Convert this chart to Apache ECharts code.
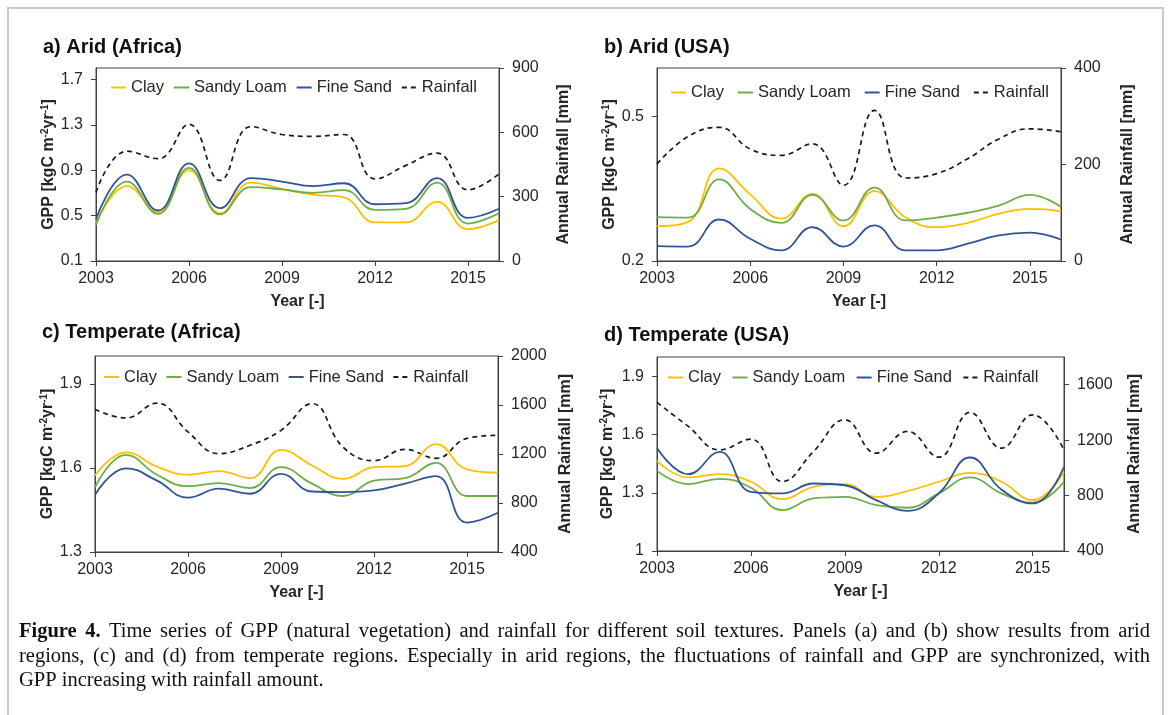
<!DOCTYPE html>
<html>
<head>
<meta charset="utf-8">
<script src="https://cdn.jsdelivr.net/npm/echarts@6/dist/echarts.min.js"></script>
<style>
  html, body { margin: 0; padding: 0; background: #ffffff; }
  #chart { width: 1171px; height: 715px; }
</style>
</head>
<body>
<div id="chart"></div>
<script>
// ---- data -------------------------------------------------------------
const years = [2003, 2004, 2005, 2006, 2007, 2008, 2009, 2010, 2011, 2012, 2013, 2014, 2015, 2016];
const seriesNames = ['Clay', 'Sandy Loam', 'Fine Sand', 'Rainfall'];
const yearTicks = [2003, 2006, 2009, 2012, 2015];

// a) Arid (Africa)
const aClay      = [0.43, 0.76, 0.53, 0.90, 0.52, 0.79, 0.735, 0.685, 0.66, 0.44, 0.44, 0.62, 0.38, 0.46];
const aSandyLoam = [0.42, 0.80, 0.515, 0.92, 0.51, 0.75, 0.73, 0.70, 0.725, 0.55, 0.56, 0.79, 0.43, 0.52];
const aFineSand  = [0.47, 0.86, 0.545, 0.96, 0.565, 0.83, 0.80, 0.76, 0.785, 0.60, 0.61, 0.83, 0.48, 0.56];
const aRainfall  = [320, 512, 477, 637, 376, 627, 590, 581, 590, 383, 446, 503, 332, 406];
const aGppRange  = [0.1, 1.8, 0.4];
const aGppTicks  = [0.1, 0.5, 0.9, 1.3, 1.7];
const aRainRange = [0, 900, 300];
const aRainTicks = [0, 300, 600, 900];

// b) Arid (USA)
const bClay      = [0.272, 0.281, 0.392, 0.338, 0.288, 0.339, 0.272, 0.345, 0.29, 0.27, 0.279, 0.298, 0.308, 0.303];
const bSandyLoam = [0.291, 0.29, 0.369, 0.308, 0.279, 0.337, 0.284, 0.352, 0.284, 0.29, 0.30, 0.315, 0.337, 0.312];
const bFineSand  = [0.231, 0.23, 0.286, 0.246, 0.222, 0.27, 0.23, 0.274, 0.222, 0.222, 0.236, 0.253, 0.259, 0.244];
const bRainfall  = [201, 258, 277, 232, 219, 243, 157, 312, 172, 181, 212, 253, 274, 268];
const bGppRange  = [0.2, 0.6, 0.3];
const bGppTicks  = [0.2, 0.5];
const bRainRange = [0, 400, 200];
const bRainTicks = [0, 200, 400];

// c) Temperate (Africa)
const cClay      = [1.573, 1.656, 1.605, 1.576, 1.589, 1.564, 1.665, 1.609, 1.561, 1.603, 1.607, 1.685, 1.595, 1.583];
const cSandyLoam = [1.532, 1.647, 1.576, 1.535, 1.546, 1.528, 1.603, 1.544, 1.50, 1.555, 1.564, 1.618, 1.50, 1.50];
const cFineSand  = [1.504, 1.599, 1.555, 1.494, 1.526, 1.508, 1.579, 1.516, 1.514, 1.52, 1.544, 1.571, 1.405, 1.44];
const cRainfall  = [1565, 1494, 1616, 1380, 1203, 1271, 1393, 1611, 1257, 1145, 1238, 1165, 1328, 1353];
const cGppRange  = [1.3, 2.0, 0.3];
const cGppTicks  = [1.3, 1.6, 1.9];
const cRainRange = [400, 2000, 400];
const cRainTicks = [400, 800, 1200, 1600, 2000];

// d) Temperate (USA)
const dClay      = [1.465, 1.379, 1.396, 1.357, 1.267, 1.331, 1.345, 1.279, 1.309, 1.357, 1.403, 1.357, 1.262, 1.41];
const dSandyLoam = [1.413, 1.345, 1.372, 1.326, 1.211, 1.271, 1.279, 1.237, 1.223, 1.297, 1.379, 1.297, 1.249, 1.357];
const dFineSand  = [1.531, 1.396, 1.511, 1.305, 1.297, 1.348, 1.339, 1.262, 1.207, 1.297, 1.482, 1.317, 1.245, 1.434];
const dRainfall  = [1472, 1299, 1130, 1207, 901, 1118, 1347, 1106, 1263, 1077, 1400, 1142, 1383, 1130];
const dGppRange  = [1.0, 2.0, 0.3];
const dGppTicks  = [1.0, 1.3, 1.6, 1.9];
const dRainRange = [400, 1800, 400];
const dRainTicks = [400, 800, 1200, 1600];

const panelTitles = ['a) Arid (Africa)', 'b) Arid (USA)', 'c) Temperate (Africa)', 'd) Temperate (USA)'];
const captionLead = 'Figure 4.';
const captionLines = [
  'Time series of GPP (natural vegetation) and rainfall for different soil textures. Panels (a) and (b) show results from arid',
  'regions, (c) and (d) from temperate regions. Especially in arid regions, the fluctuations of rainfall and GPP are synchronized, with',
  'GPP increasing with rainfall amount.'
];

// ---- styling / layout -------------------------------------------------
const SANS = 'Liberation Sans, Arial, sans-serif';
const SERIF = 'Liberation Serif';
const INK = '#262626';
const AXIS = '#404040';
const colors = ['#FFC000', '#70AD47', '#2F5597', '#1a1a1a'];

const layouts = [
  { grid: { left: 96,  top: 68,  width: 403, height: 193 }, title: [43, 46],  legend: { left: 110, top: 79, itemGap: 9 },  gppGap: 38, rainGap: 57 },
  { grid: { left: 657, top: 68,  width: 404, height: 193 }, title: [604, 46], legend: { left: 670, top: 84, itemGap: 13 }, gppGap: 38, rainGap: 59 },
  { grid: { left: 95,  top: 356, width: 403, height: 196 }, title: [42, 331], legend: { left: 103, top: 368.5, itemGap: 8.5 }, gppGap: 38, rainGap: 60 },
  { grid: { left: 657, top: 357, width: 407, height: 194 }, title: [604, 334], legend: { left: 667, top: 369, itemGap: 10.5 }, gppGap: 40, rainGap: 63 }
];

const panels = [
  { values: [aClay, aSandyLoam, aFineSand, aRainfall], gpp: aGppRange, gppTicks: aGppTicks, rain: aRainRange, rainTicks: aRainTicks },
  { values: [bClay, bSandyLoam, bFineSand, bRainfall], gpp: bGppRange, gppTicks: bGppTicks, rain: bRainRange, rainTicks: bRainTicks },
  { values: [cClay, cSandyLoam, cFineSand, cRainfall], gpp: cGppRange, gppTicks: cGppTicks, rain: cRainRange, rainTicks: cRainTicks },
  { values: [dClay, dSandyLoam, dFineSand, dRainfall], gpp: dGppRange, gppTicks: dGppTicks, rain: dRainRange, rainTicks: dRainTicks }
];

const numFmt = v => String(parseFloat(Number(v).toFixed(3)));
const tickLabel = { fontFamily: SANS, fontSize: 16, color: INK, formatter: numFmt };
const axisLineStyle = { color: AXIS, width: 1 };
const nameStyleBold = { fontFamily: SANS, fontSize: 16, fontWeight: 'bold', color: INK };

// GPP axis title with superscript exponents
const gppName = '{t|GPP [kgC m}{s|-2}{t|yr}{s|-1}{t|]}';
const gppRich = {
  t: { fontFamily: SANS, fontSize: 16, fontWeight: 'bold', color: INK, lineHeight: 18 },
  s: { fontFamily: SANS, fontSize: 10, fontWeight: 'bold', color: INK, lineHeight: 10, verticalAlign: 'top' }
};

const grids = [], xAxes = [], yAxes = [], series = [], legends = [], graphics = [];

panels.forEach((p, i) => {
  const L = layouts[i];
  grids.push(Object.assign({ show: true, borderColor: AXIS, borderWidth: 1, backgroundColor: 'transparent', containLabel: false }, L.grid));

  xAxes.push({
    type: 'value', gridIndex: i, min: years[0], max: years[years.length - 1], interval: 3,
    name: 'Year [-]', nameLocation: 'middle', nameGap: 33, nameTextStyle: nameStyleBold,
    axisLine: { show: true, lineStyle: axisLineStyle },
    axisTick: { show: true, inside: false, length: 5, lineStyle: axisLineStyle, customValues: yearTicks },
    axisLabel: Object.assign({ margin: 10, customValues: yearTicks }, tickLabel, { formatter: v => String(v) }),
    splitLine: { show: false }
  });

  yAxes.push({
    type: 'value', gridIndex: i, position: 'left', min: p.gpp[0], max: p.gpp[1], interval: p.gpp[2],
    name: gppName, nameLocation: 'middle', nameRotate: 90, nameGap: L.gppGap,
    nameTextStyle: { rich: gppRich },
    axisLine: { show: true, lineStyle: axisLineStyle },
    axisTick: { show: true, inside: false, length: 5, lineStyle: axisLineStyle, customValues: p.gppTicks },
    axisLabel: Object.assign({ margin: 13, customValues: p.gppTicks }, tickLabel),
    splitLine: { show: false }
  });

  yAxes.push({
    type: 'value', gridIndex: i, position: 'right', min: p.rain[0], max: p.rain[1], interval: p.rain[2],
    name: 'Annual Rainfall [mm]', nameLocation: 'middle', nameRotate: 90, nameGap: L.rainGap,
    nameTextStyle: nameStyleBold,
    axisLine: { show: true, lineStyle: axisLineStyle },
    axisTick: { show: true, inside: false, length: 5, lineStyle: axisLineStyle, customValues: p.rainTicks },
    axisLabel: Object.assign({ margin: 13, customValues: p.rainTicks }, tickLabel),
    splitLine: { show: false }
  });

  seriesNames.forEach((name, k) => {
    const isRain = k === 3;
    series.push({
      type: 'line', name: name,
      xAxisIndex: i, yAxisIndex: isRain ? 2 * i + 1 : 2 * i,
      data: years.map((y, j) => [y, p.values[k][j]]),
      smooth: 0.45, symbol: 'none', showSymbol: false,
      color: colors[k],
      lineStyle: { color: colors[k], width: isRain ? 1.7 : 1.8, type: isRain ? [5, 4] : 'solid' },
      z: isRain ? 3 : 4 + k,
      animation: false, silent: true
    });
  });

  // line-only legend keys (the symbol marker is made fully transparent)
  legends.push({
    data: seriesNames, left: L.legend.left, top: L.legend.top, orient: 'horizontal',
    itemWidth: 15, itemHeight: 8, itemGap: L.legend.itemGap, padding: 0,
    selectedMode: false,
    itemStyle: { opacity: 0, borderWidth: 0 },
    textStyle: { fontFamily: SANS, fontSize: 16.5, color: INK }
  });

  graphics.push({
    type: 'text', x: L.title[0], y: L.title[1] + 1, silent: true,
    style: { text: panelTitles[i], fontFamily: SANS, fontSize: 20, fontWeight: 'bold', fill: '#111111',
             verticalAlign: 'middle', textVerticalAlign: 'middle' }
  });
});

// figure frame
graphics.push({
  type: 'rect', silent: true, z: -10,
  shape: { x: 8, y: 8, width: 1155, height: 740 },
  style: { fill: 'none', stroke: '#c9c9c9', lineWidth: 2 }
});

// caption: justified serif paragraph, the last line set ragged
const CAP_SIZE = 20.5;
const capLeft = 19, capRight = 1150;
const captionY = [632, 657, 681];
const measureCtx = document.createElement('canvas').getContext('2d');
function textWidth(str, bold) {
  measureCtx.font = (bold ? 'bold ' : '') + CAP_SIZE + 'px "' + SERIF + '"';
  return measureCtx.measureText(str).width;
}
captionLines.forEach((line, j) => {
  const words = line.split(' ').map(w => ({ w: w, bold: false }));
  if (j === 0) {
    captionLead.split(' ').reverse().forEach(w => words.unshift({ w: w, bold: true }));
  }
  const widths = words.map(o => textWidth(o.w, o.bold));
  const total = widths.reduce((s, v) => s + v, 0);
  const justify = j < captionLines.length - 1;
  const gap = justify ? (capRight - capLeft - total) / (words.length - 1) : textWidth(' ', false);
  let x = capLeft;
  words.forEach((o, k) => {
    graphics.push({
      type: 'text', x: x, y: captionY[j], silent: true,
      style: {
        text: o.w, fontFamily: SERIF, fontSize: CAP_SIZE, fontWeight: o.bold ? 'bold' : 'normal',
        fill: '#111111', verticalAlign: 'middle', textVerticalAlign: 'middle'
      }
    });
    x += widths[k] + gap;
  });
});

const chart = echarts.init(document.getElementById('chart'), null, { renderer: 'canvas' });
chart.setOption({
  backgroundColor: '#ffffff',
  animation: false,
  textStyle: { fontFamily: SANS },
  grid: grids,
  xAxis: xAxes,
  yAxis: yAxes,
  legend: legends,
  series: series,
  graphic: graphics
});
</script>
</body>
</html>
